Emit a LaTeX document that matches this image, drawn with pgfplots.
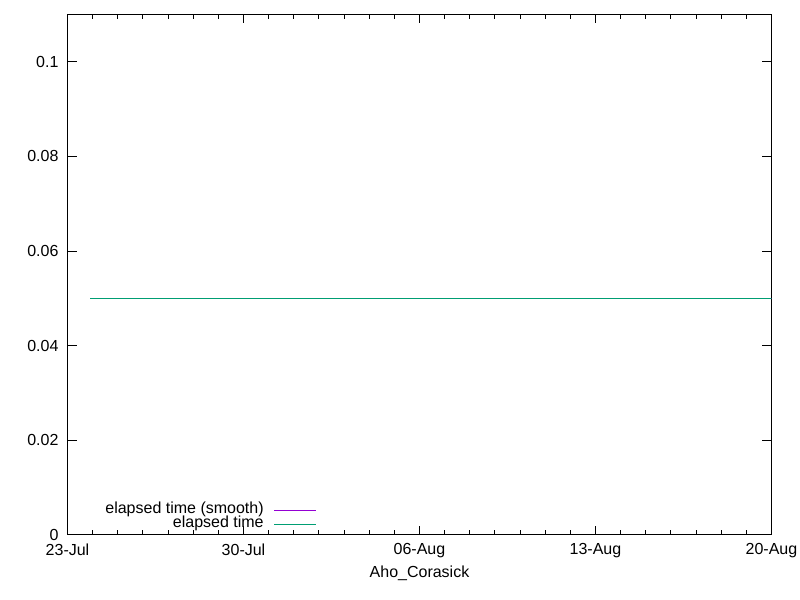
\documentclass[border=0pt]{standalone}
\usepackage{pgfplots}
\pgfplotsset{compat=1.18}
\usepackage{fontspec}
\setmainfont{Liberation Sans}
\definecolor{gpPurple}{HTML}{9400D3}
\definecolor{gpGreen}{HTML}{009E73}
\begin{document}
\begin{tikzpicture}[x=1pt,y=1pt]
\useasboundingbox (0,0) rectangle (400,300);
\begin{axis}[
  at={(33.75pt,32.5pt)}, anchor=south west,
  scale only axis, width=352pt, height=260.25pt,
  xmin=0, xmax=28, ymin=0, ymax=0.11,
  xtick={0,7,14,21,28},
  xticklabels={23-Jul,30-Jul,06-Aug,13-Aug,20-Aug},
  minor x tick num=6,
  ytick={0,0.02,0.04,0.06,0.08,0.1},
  yticklabels={0,0.02,0.04,0.06,0.08,0.1},
  tick align=inside,
  major tick length=4.5pt, minor tick length=2.5pt,
  every tick/.style={black, line width=0.5pt},
  axis line style={line width=0.5pt},
  tick label style={font=\fontsize{8}{9}\selectfont},
  xticklabel style={yshift=-0.7pt},
  yticklabel style={xshift=-1pt},
  xlabel={Aho\_Corasick},
  xlabel style={font=\fontsize{8}{9}\selectfont, yshift=3pt},
  /pgf/number format/assume math mode=true,
  legend style={draw=none, fill=none, font=\fontsize{8}{9}\selectfont,
    at={(0.3545,0.0065)}, anchor=south east, row sep=0.1pt, inner sep=0pt,
    nodes={inner sep=0pt, text height=5.2pt, text depth=1.7pt}},
  legend cell align=right,
  legend plot pos=right,
  legend image code/.code={\draw[#1] (0pt,0pt) -- (21pt,0pt);},
]
\addplot[gpPurple, line width=0.5pt] coordinates {
 (0.91,0.05) (1.91,0.05) (2.91,0.05) (3.91,0.05) (4.91,0.05) (5.91,0.05) (6.91,0.05)
 (7.91,0.05) (8.91,0.05) (9.91,0.05) (10.91,0.05) (11.91,0.05) (12.91,0.05) (13.91,0.05)
 (14.91,0.05) (15.91,0.05) (16.91,0.05) (17.91,0.05) (18.91,0.05) (19.91,0.05) (20.91,0.05)
 (21.91,0.05) (22.91,0.05) (23.91,0.05) (24.91,0.05) (25.91,0.05) (26.91,0.05) (28.5,0.05)
};
\addlegendentry{elapsed time (smooth)\rule{5pt}{0pt}}
\addplot[gpGreen, line width=0.5pt] coordinates {
 (0.91,0.05) (1.91,0.05) (2.91,0.05) (3.91,0.05) (4.91,0.05) (5.91,0.05) (6.91,0.05)
 (7.91,0.05) (8.91,0.05) (9.91,0.05) (10.91,0.05) (11.91,0.05) (12.91,0.05) (13.91,0.05)
 (14.91,0.05) (15.91,0.05) (16.91,0.05) (17.91,0.05) (18.91,0.05) (19.91,0.05) (20.91,0.05)
 (21.91,0.05) (22.91,0.05) (23.91,0.05) (24.91,0.05) (25.91,0.05) (26.91,0.05) (28.5,0.05)
};
\addlegendentry{elapsed time\rule{5pt}{0pt}}
\end{axis}
\end{tikzpicture}
\end{document}
